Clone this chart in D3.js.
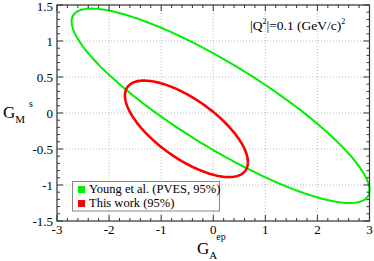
<!DOCTYPE html>
<html>
<head>
<meta charset="utf-8">
<script src="https://cdn.jsdelivr.net/npm/d3@7"></script>
</head>
<body style="margin:0">
<svg id="s" width="374" height="261"></svg>
<script>
// ellipse parameters: centre, half-extent along x and y, correlation
const seriesNames = ["Young et al. (PVES, 95%)", "This work (95%)"];
const seriesColors = ["#00ee00", "#ff0000"];
const centerX = [0.14, -0.515];
const centerY = [0.1, -0.22];
const spreadX = [2.86, 1.18];
const spreadY = [1.35, 0.67];
const correlation = [-0.867, -0.69];

const xTicks = [-3, -2, -1, 0, 1, 2, 3];
const yTicks = [-1.5, -1, -0.5, 0, 0.5, 1, 1.5];

const margin = { left: 57, top: 5, right: 4, bottom: 40 };
const width = 374, height = 261;
const serif = "Liberation Serif";

const svg = d3.select("#s");

const x = d3.scaleLinear().domain([-3, 3]).range([margin.left, width - margin.right - 0.5]);
const y = d3.scaleLinear().domain([-1.5, 1.5]).range([height - margin.bottom, margin.top]);

// grid
const grid = svg.append("g").attr("stroke", "#bbb").attr("stroke-dasharray", "1,2").attr("stroke-width", 1);
for (let t of xTicks.slice(1, -1)) {
    grid.append("line").attr("x1", x(t)).attr("x2", x(t)).attr("y1", y(-1.5)).attr("y2", y(1.5));
}
for (let t of yTicks.slice(1, -1)) {
    grid.append("line").attr("x1", x(-3)).attr("x2", x(3)).attr("y1", y(t)).attr("y2", y(t));
}

// ellipses
const line = d3.line().x(d => x(d[0])).y(d => y(d[1]));
for (let i = 0; i < seriesNames.length; i++) {
    const pts = d3.range(0, 361, 2).map(a => {
        const t = a * Math.PI / 180;
        const r = correlation[i];
        return [
            centerX[i] + spreadX[i] * Math.cos(t),
            centerY[i] + spreadY[i] * (r * Math.cos(t) + Math.sqrt(1 - r * r) * Math.sin(t)),
        ];
    });
    svg.append("path")
        .attr("d", line(pts))
        .attr("fill", "none")
        .attr("stroke", seriesColors[i])
        .attr("stroke-width", i === 0 ? 2 : 2.6);
}

// axes with inward ticks on all four sides
const xMinor = d3.range(-3, 3.001, 0.2);
const yMinor = d3.range(-1.5, 1.501, 0.1);
const axisG = svg.append("g").attr("stroke", "#333").attr("stroke-width", 1);
for (let t of xMinor) {
    const isMajor = Math.abs(t - Math.round(t)) < 1e-6;
    const len = isMajor ? 6 : 3;
    axisG.append("line").attr("x1", x(t)).attr("x2", x(t)).attr("y1", y(-1.5)).attr("y2", y(-1.5) - len);
    axisG.append("line").attr("x1", x(t)).attr("x2", x(t)).attr("y1", y(1.5)).attr("y2", y(1.5) + len);
}
for (let t of yMinor) {
    const isMajor = Math.abs(t * 2 - Math.round(t * 2)) < 1e-6;
    const len = isMajor ? 6 : 3;
    axisG.append("line").attr("x1", x(-3)).attr("x2", x(-3) + len).attr("y1", y(t)).attr("y2", y(t));
    axisG.append("line").attr("x1", x(3)).attr("x2", x(3) - len).attr("y1", y(t)).attr("y2", y(t));
}
svg.append("rect")
    .attr("x", x(-3)).attr("y", y(1.5))
    .attr("width", x(3) - x(-3)).attr("height", y(-1.5) - y(1.5))
    .attr("fill", "none").attr("stroke", "#333").attr("stroke-width", 1.2);

// tick labels
svg.append("g").selectAll("text").data(xTicks).join("text")
    .attr("x", d => x(d)).attr("y", y(-1.5) + 13)
    .attr("text-anchor", "middle").attr("font-size", 13)
    .style("font-family", `"${serif}"`)
    .text(d => d);
svg.append("g").selectAll("text").data(yTicks).join("text")
    .attr("x", x(-3) - 4).attr("y", d => Math.max(y(d) + 5, 11))
    .attr("text-anchor", "end").attr("font-size", 13)
    .style("font-family", `"${serif}"`)
    .text(d => d);

// axis titles
const yTitle = svg.append("text").attr("x", 3).attr("y", 118).attr("font-size", 17)
    .style("font-family", `"${serif}"`);
yTitle.append("tspan").text("G");
yTitle.append("tspan").attr("font-size", 11).attr("dy", 5).text("M");
yTitle.append("tspan").attr("font-size", 10).attr("dx", 4).attr("dy", -16).text("s");

const xTitle = svg.append("text").attr("x", 197).attr("y", 254).attr("font-size", 17)
    .style("font-family", `"${serif}"`);
xTitle.append("tspan").text("G");
xTitle.append("tspan").attr("font-size", 11).attr("dy", 5).text("A");
xTitle.append("tspan").attr("font-size", 10).attr("dx", -1).attr("dy", -19).text("ep");

// annotation
const ann = svg.append("text").attr("x", 250).attr("y", 30).attr("font-size", 13.5)
    .style("font-family", `"${serif}"`);
ann.append("tspan").text("|Q");
ann.append("tspan").attr("font-size", 8).attr("dy", -6).text("2");
ann.append("tspan").attr("dy", 6).text("|=0.1 (GeV/c)");
ann.append("tspan").attr("font-size", 8).attr("dy", -6).text("2");

// legend
const legend = svg.append("g");
legend.append("rect")
    .attr("x", 72.5).attr("y", 181.5).attr("width", 147).attr("height", 29.5)
    .attr("fill", "#fff").attr("stroke", "#888").attr("stroke-width", 1);
seriesNames.forEach((name, i) => {
    legend.append("rect")
        .attr("x", 78).attr("y", 186 + i * 14).attr("width", 7).attr("height", 7)
        .attr("fill", seriesColors[i]);
    legend.append("text")
        .attr("x", 89).attr("y", 193 + i * 14).attr("font-size", 12.5)
        .style("font-family", `"${serif}"`)
        .text(name);
});
</script>
</body>
</html>
